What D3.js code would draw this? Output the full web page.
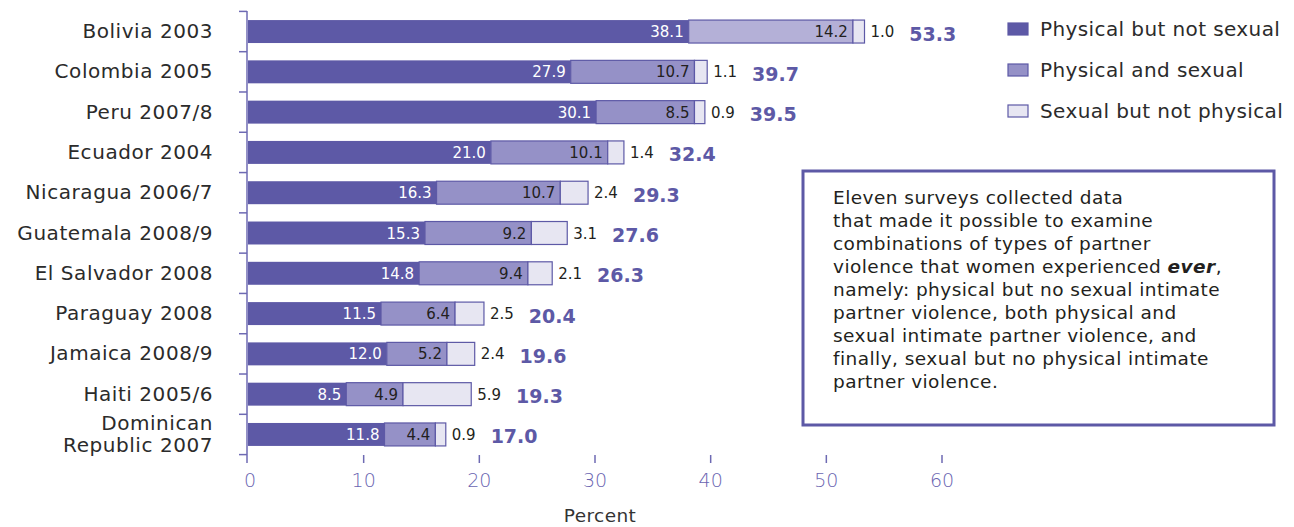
<!DOCTYPE html>
<html><head><meta charset="utf-8">
<script src="https://cdn.jsdelivr.net/npm/d3@7"></script>
<style>body{margin:0;background:#fff}svg{display:block}</style>
</head><body><svg id="c" width="1294" height="527"></svg>
<script>
const categories = ["Bolivia 2003","Colombia 2005","Peru 2007/8","Ecuador 2004","Nicaragua 2006/7","Guatemala 2008/9","El Salvador 2008","Paraguay 2008","Jamaica 2008/9","Haiti 2005/6","Dominican\nRepublic 2007"];
const physicalOnly = [38.1,27.9,30.1,21.0,16.3,15.3,14.8,11.5,12.0,8.5,11.8];
const physicalSexual = [14.2,10.7,8.5,10.1,10.7,9.2,9.4,6.4,5.2,4.9,4.4];
const sexualOnly = [1.0,1.1,0.9,1.4,2.4,3.1,2.1,2.5,2.4,5.9,0.9];
const totals = [53.3,39.7,39.5,32.4,29.3,27.6,26.3,20.4,19.6,19.3,17.0];
const seriesNames = ["Physical but not sexual","Physical and sexual","Sexual but not physical"];
const xTicks = [0,10,20,30,40,50,60];
const axisTitle = "Percent";
const noteLines = ["Eleven surveys collected data","that made it possible to examine","combinations of types of partner","violence that women experienced |ever|,","namely: physical but no sexual intimate","partner violence, both physical and","sexual intimate partner violence, and","finally, sexual but no physical intimate","partner violence."];

const FONT = "'DejaVu Sans', sans-serif";
const DARK = "#5D59A6", MID = "#9591C7", LIGHT = "#E7E6F2", MID_B = "#B4B0D7";
const AXIS = "#6E6AB3", TXT = "#231F20";
const svg = d3.select("#c").style("font-family", FONT);

const x = d3.scaleLinear().domain([0,60]).range([248,942]);
const y = d3.scaleBand().domain(categories).range([11,455]).paddingInner(0.43).paddingOuter(0.225);
const bw = y.bandwidth(), step = y.step();

// left axis line + band ticks
svg.append("line").attr("x1",247).attr("x2",247).attr("y1",11).attr("y2",463).attr("stroke",AXIS).attr("stroke-width",1.5);
const bounds = categories.map(c => y(c) - (step-bw)/2).concat([y(categories[categories.length-1]) + bw + (step-bw)/2]);
svg.selectAll(".bt").data(bounds).enter().append("line")
  .attr("x1",239).attr("x2",247).attr("y1",d=>d).attr("y2",d=>d).attr("stroke",AXIS).attr("stroke-width",1.5);

// x ticks
svg.selectAll(".xt").data(xTicks.filter(d=>d>0)).enter().append("line")
  .attr("x1",d=>x(d)).attr("x2",d=>x(d)).attr("y1",455).attr("y2",463).attr("stroke",AXIS).attr("stroke-width",1.5);
svg.selectAll(".xl").data(xTicks).enter().append("text")
  .attr("x",d=>x(d)+ (d===0?2:0)).attr("y",487).attr("text-anchor","middle")
  .attr("fill","#6964B1").attr("font-size",19).attr("font-weight",200).text(d=>d);
svg.append("text").attr("x",600).attr("y",522).attr("text-anchor","middle").attr("fill","#333")
  .attr("font-size",18.5).attr("letter-spacing",0.4).text(axisTitle);

// category labels
categories.forEach((c,i)=>{
  const lines = c.split("\n");
  const cy = y(c)+bw/2;
  const t = svg.append("text").attr("x",213).attr("text-anchor","end").attr("fill","#2b2b2b")
    .attr("font-size",20).attr("letter-spacing",0.55);
  lines.forEach((l,j)=>{
    t.append("tspan").attr("x",213).attr("y", cy + 6.5 + (j-(lines.length-1)/2)*22).text(l);
  });
});

// bars
categories.forEach((c,i)=>{
  const y0 = y(c), cy = y0+bw/2;
  const vals = [physicalOnly[i], physicalSexual[i], sexualOnly[i]];
  let acc = 0;
  vals.forEach((v,k)=>{
    const fill = k===0?DARK:(k===1?(i===0?MID_B:MID):LIGHT);
    svg.append("rect").attr("x",x(acc)).attr("y",y0).attr("width",x(acc+v)-x(acc)).attr("height",bw)
      .attr("fill",fill).attr("stroke",DARK).attr("stroke-width",k===0?0:1.2);
    acc += v;
  });
  svg.append("text").attr("x",x(vals[0])-5).attr("y",cy+5.5).attr("text-anchor","end")
    .attr("fill","#fff").attr("font-size",15).text(vals[0].toFixed(1));
  svg.append("text").attr("x",x(vals[0]+vals[1])-5).attr("y",cy+5.5).attr("text-anchor","end")
    .attr("fill",TXT).attr("font-size",15).text(vals[1].toFixed(1));
  const end = x(vals[0]+vals[1]+vals[2]);
  const s = svg.append("text").attr("x",end+6).attr("y",cy+5.5)
    .attr("fill",TXT).attr("font-size",15).text(vals[2].toFixed(1));
  const w = s.node().getComputedTextLength();
  svg.append("text").attr("x",end+6+w+15).attr("y",cy+9)
    .attr("fill",DARK).attr("font-size",19).attr("font-weight",700).text(totals[i].toFixed(1));
});

// legend
const lc = [DARK,MID,LIGHT];
seriesNames.forEach((n,k)=>{
  const ly = 29 + k*41;
  svg.append("rect").attr("x",1008).attr("y",ly-6).attr("width",20).attr("height",12)
    .attr("fill",lc[k]).attr("stroke",DARK).attr("stroke-width",1.2);
  svg.append("text").attr("x",1040).attr("y",ly+7).attr("fill","#2b2b2b").attr("font-size",20)
    .attr("letter-spacing",0.4).text(n);
});

// note box
svg.append("rect").attr("x",803).attr("y",171).attr("width",471).attr("height",254)
  .attr("fill","#fff").attr("stroke",DARK).attr("stroke-width",3);
noteLines.forEach((l,j)=>{
  const t = svg.append("text").attr("x",833).attr("y",204 + j*23).attr("fill",TXT)
    .attr("font-size",18.5).attr("letter-spacing",0.45);
  l.split("|").forEach((part,p)=>{
    const ts = t.append("tspan").text(part);
    if (p===1) ts.attr("font-weight",700).attr("font-style","italic");
  });
});
</script></body></html>
